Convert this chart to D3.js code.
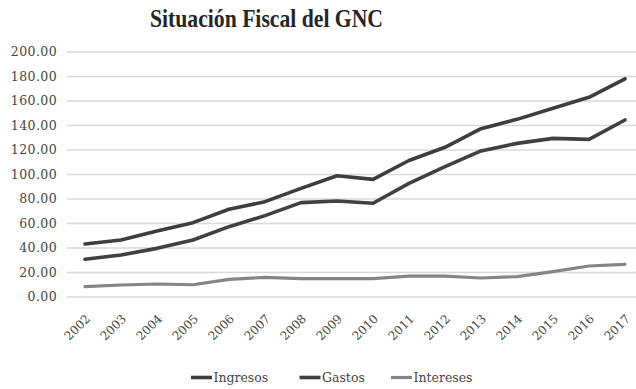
<!DOCTYPE html>
<html>
<head>
<meta charset="utf-8">
<script src="https://cdn.jsdelivr.net/npm/d3@7"></script>
<style>
  html, body { margin: 0; padding: 0; background: #fff; }
  svg { display: block; }
</style>
</head>
<body>
<svg id="chart" width="636" height="389"></svg>
<script>
// Situación fiscal del Gobierno Nacional Central, 2002–2017
const years = ["2002","2003","2004","2005","2006","2007","2008","2009",
               "2010","2011","2012","2013","2014","2015","2016","2017"];
const ingresos  = [42.9, 46.1, 53.5, 60.3, 71.2, 77.4, 88.3, 98.6,
                   95.6, 111.0, 121.8, 137.0, 144.6, 153.6, 162.6, 177.6];
const gastos    = [30.4, 33.9, 39.3, 46.1, 57.0, 66.0, 76.6, 78.0,
                   76.1, 92.4, 106.0, 118.8, 125.0, 129.1, 128.3, 144.1];
const intereses = [8.0, 9.4, 10.2, 9.6, 14.0, 15.6, 14.6, 14.6,
                   14.6, 16.7, 16.7, 15.1, 16.2, 20.3, 24.9, 26.3];
const yTicks = [0, 20, 40, 60, 80, 100, 120, 140, 160, 180, 200];

const series = [
  { name: "Ingresos",  values: ingresos,  color: "#3d3d3d", width: 3.6 },
  { name: "Gastos",    values: gastos,    color: "#404040", width: 3.6 },
  { name: "Intereses", values: intereses, color: "#858585", width: 3.2 }
];

const svg = d3.select("#chart");
const plot = { left: 67, right: 643, top: 51.5, bottom: 296.5 };

const x = d3.scaleBand().domain(years).range([plot.left, plot.right]);
const y = d3.scaleLinear().domain([0, 200]).range([plot.bottom, plot.top]);
const cx = d => x(d) + x.bandwidth() / 2;

// Title
svg.append("text")
  .attr("x", 266.5).attr("y", 27)
  .attr("text-anchor", "middle")
  .attr("font-family", "'Liberation Serif', 'DejaVu Serif', serif")
  .attr("font-weight", "bold")
  .attr("font-size", 25)
  .attr("fill", "#262626")
  .attr("textLength", 233)
  .attr("lengthAdjust", "spacingAndGlyphs")
  .text("Situación Fiscal del GNC");

// Horizontal gridlines and y labels
const yAxis = d3.axisLeft(y)
  .tickValues(yTicks)
  .tickSize(-(plot.right - plot.left))
  .tickFormat(d3.format(".2f"))
  .tickPadding(10);

const gy = svg.append("g")
  .attr("transform", `translate(${plot.left},0)`)
  .call(yAxis);
gy.select(".domain").remove();
gy.selectAll(".tick line")
  .attr("stroke", "#d9d9d9")
  .attr("stroke-width", 1.6);
gy.selectAll(".tick text")
  .attr("font-family", "'DejaVu Serif', serif")
  .attr("font-size", 12.5)
  .attr("letter-spacing", 0.4)
  .attr("fill", "#454545")
  .attr("dy", "0.35em");

// x labels, rotated
const xAxis = d3.axisBottom(x).tickSize(0).tickPadding(0);
const gx = svg.append("g")
  .attr("transform", `translate(0,${plot.bottom})`)
  .call(xAxis);
gx.select(".domain").remove();
gx.selectAll(".tick text")
  .attr("font-family", "'DejaVu Serif', serif")
  .attr("font-size", 12)
  .attr("fill", "#4a4a4a")
  .attr("text-anchor", "end")
  .attr("transform", "translate(3,20) rotate(-45)")
  .attr("dy", "0.35em");

// Series lines
const line = d3.line()
  .x((d, i) => cx(years[i]))
  .y(d => y(d));

svg.append("g").selectAll("path")
  .data(series.slice().reverse())
  .join("path")
  .attr("d", s => line(s.values))
  .attr("fill", "none")
  .attr("stroke", s => s.color)
  .attr("stroke-width", s => s.width)
  .attr("stroke-linejoin", "round")
  .attr("stroke-linecap", "round");

// Legend
const legendX = [191, 299.5, 391];
const lg = svg.append("g").selectAll("g")
  .data(series)
  .join("g")
  .attr("transform", (s, i) => `translate(${legendX[i]},377.5)`);
lg.append("line")
  .attr("x1", 0).attr("x2", 21)
  .attr("stroke", s => s.color)
  .attr("stroke-width", s => s.width);
lg.append("text")
  .attr("x", 22.5)
  .attr("dy", "0.35em")
  .attr("font-family", "'DejaVu Serif', serif")
  .attr("font-size", 12.5)
  .attr("fill", "#454545")
  .text(s => s.name);
</script>
</body>
</html>
